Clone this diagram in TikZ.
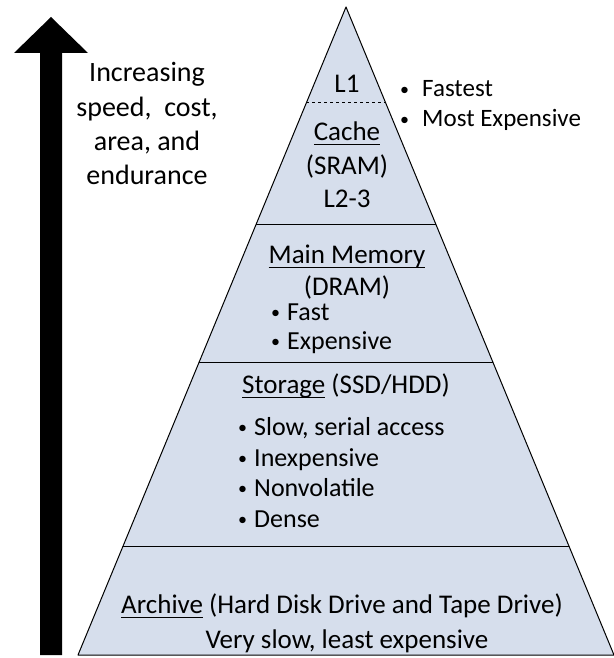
\documentclass[tikz,border=0pt]{standalone}
\usepackage{fontspec}
\setmainfont{Carlito}
\usetikzlibrary{positioning}
\definecolor{pyrfill}{RGB}{214,222,236}
\newcommand{\dotb}{\raisebox{1.5pt}{\fontsize{18}{18}\selectfont\textbullet}}
\newcommand{\itm}[2][7pt]{\llap{\dotb\hspace{#1}}#2}
\newsavebox{\ulbox}
\newcommand{\uln}[1]{\sbox{\ulbox}{#1}\rlap{\rule[-5pt]{\wd\ulbox}{1.3pt}}\usebox{\ulbox}}

\begin{document}
\begin{tikzpicture}[x=1pt,y=-1pt,
  lvl/.style={anchor=base,inner sep=0pt,font=\fontsize{27}{32}\selectfont},
  item/.style={anchor=base west,inner sep=0pt,font=\fontsize{26}{30}\selectfont},
  side/.style={anchor=base west,inner sep=0pt,font=\fontsize{25}{30}\selectfont}]
\useasboundingbox (0,0) rectangle (613,658);
% arrow on the left
\fill (40,655) -- (40,53) -- (14,53) -- (51,17) -- (88,53) -- (62,53) -- (62,655) -- cycle;
\foreach \t [count=\i from 0] in {Increasing,{speed,~ cost,},{area, and},endurance}
  \node[anchor=base,inner sep=0pt,font=\fontsize{28}{34}\selectfont] (up\i) at (147,82+34.3*\i) {\t};
% pyramid
\coordinate (top) at (346,7);
\coordinate (bl) at (78,655);
\coordinate (br) at (614,655);
\fill[pyrfill] (top) -- (bl) -- (br) -- cycle;
\begin{scope}
  \clip (top) -- (bl) -- (br) -- cycle;
  \draw[dashed] (0,102) -- (613,102);
  \foreach \y in {224,362,546} \draw (0,\y) -- (613,\y);
\end{scope}
\draw[line width=1pt,line join=round] (top) -- (bl) -- (br) -- cycle;
% levels
\node[lvl] (l1) at (347,93) {L1};
\node[lvl] (cache) at (347,140) {\uln{Cache}};
\node[lvl] (sram) at (347,174) {(SRAM)};
\node[lvl] (ltwo) at (347,207) {L2-3};
\node[lvl] (mainmem) at (347,263) {\uln{Main Memory}};
\node[lvl] (dram) at (347,295) {(DRAM)};
\node[item] (fast) at (287,320) {\itm{Fast}};
\node[item] (expens) at (287,349) {\itm{Expensive}};
\node[lvl] (storage) at (346,393) {\uln{Storage} (SSD/HDD)};
\node[item] (slow) at (254,435) {\itm{Slow, serial access}};
\node[item] (inexp) at (254,466) {\itm{Inexpensive}};
\node[item] (nonvol) at (254,496) {\itm{Nonvolatile}};
\node[item] (dense) at (254,527) {\itm{Dense}};
\node[lvl] (archive) at (342,613) {\uln{Archive} (Hard Disk Drive and Tape Drive)};
\node[lvl] (veryslow) at (347,648) {Very slow, least expensive};
% notes next to L1
\node[side] (fastest) at (422,97) {\itm[13pt]{Fastest}};
\node[side] (mostexp) at (422,127) {\itm[13pt]{Most Expensive}};
\end{tikzpicture}
\end{document}
